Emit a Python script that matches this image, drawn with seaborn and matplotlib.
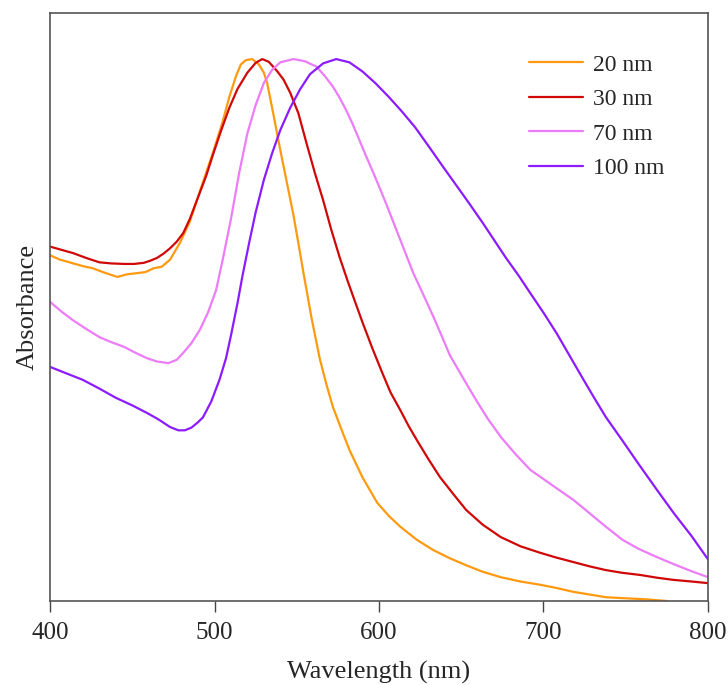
import pandas as pd
import matplotlib
matplotlib.use("Agg")
import matplotlib.pyplot as plt
import seaborn as sns

# values (absorbance, arbitrary units, peak = 1)
wl_20 = [400, 406, 413, 420, 426, 433, 441, 447, 453, 458, 463, 468, 473, 479, 485, 491, 499,
         505, 509, 513, 516, 519, 523, 527, 530, 532, 536, 540, 544, 548, 551, 554, 559, 564,
         568, 572, 577, 582, 590, 599, 606, 613, 623, 633, 643, 653, 663, 674, 686, 698, 708,
         718, 728, 738, 750, 763, 775]
abs_20 = [0.638, 0.630, 0.624, 0.618, 0.614, 0.606, 0.598, 0.603, 0.605, 0.607, 0.614, 0.617,
          0.630, 0.661, 0.700, 0.755, 0.827, 0.885, 0.930, 0.968, 0.990, 0.998, 1.000, 0.990,
          0.975, 0.956, 0.895, 0.832, 0.772, 0.712, 0.660, 0.607, 0.522, 0.447, 0.400, 0.358,
          0.318, 0.279, 0.228, 0.181, 0.157, 0.137, 0.113, 0.094, 0.079, 0.066, 0.054, 0.044,
          0.036, 0.030, 0.024, 0.017, 0.012, 0.007, 0.005, 0.003, 0.0]

wl_30 = [400, 407, 414, 422, 430, 437, 445, 451, 457, 461, 465, 469, 473, 477, 481, 485, 490,
         495, 499, 504, 509, 514, 520, 525, 529, 533, 538, 542, 546, 551, 556, 561, 566, 571,
         576, 581, 585, 590, 596, 602, 607, 613, 618, 623, 630, 637, 645, 653, 663, 674, 686,
         698, 708, 718, 728, 738, 748, 759, 769, 779, 790, 800]
abs_30 = [0.654, 0.648, 0.642, 0.633, 0.625, 0.623, 0.622, 0.622, 0.624, 0.628, 0.633, 0.641,
          0.651, 0.663, 0.679, 0.705, 0.745, 0.785, 0.823, 0.868, 0.910, 0.945, 0.975, 0.993,
          1.000, 0.995, 0.978, 0.962, 0.938, 0.900, 0.844, 0.790, 0.740, 0.685, 0.635, 0.590,
          0.556, 0.514, 0.466, 0.421, 0.385, 0.352, 0.323, 0.297, 0.262, 0.229, 0.198, 0.168,
          0.141, 0.118, 0.101, 0.089, 0.080, 0.072, 0.064, 0.057, 0.052, 0.048, 0.043, 0.039,
          0.036, 0.033]

wl_70 = [400, 407, 414, 422, 430, 437, 445, 452, 459, 465, 472, 477, 481, 486, 491, 496, 501,
         505, 510, 515, 520, 525, 530, 535, 540, 548, 555, 562, 567, 572, 576, 580, 584, 588,
         592, 597, 601, 605, 609, 613, 617, 621, 627, 633, 638, 643, 651, 659, 666, 674, 683,
         692, 700, 708, 718, 728, 738, 748, 758, 769, 780, 790, 800]
abs_70 = [0.552, 0.534, 0.518, 0.502, 0.487, 0.478, 0.469, 0.458, 0.448, 0.442, 0.439, 0.445,
          0.458, 0.476, 0.500, 0.532, 0.574, 0.630, 0.705, 0.790, 0.863, 0.915, 0.956, 0.980,
          0.994, 1.000, 0.996, 0.986, 0.969, 0.949, 0.929, 0.906, 0.880, 0.851, 0.822, 0.787,
          0.758, 0.728, 0.697, 0.666, 0.635, 0.604, 0.565, 0.525, 0.490, 0.454, 0.412, 0.371,
          0.337, 0.303, 0.271, 0.242, 0.225, 0.208, 0.187, 0.162, 0.137, 0.113, 0.096, 0.081,
          0.067, 0.055, 0.044]

wl_100 = [400, 410, 420, 430, 440, 450, 459, 466, 473, 478, 482, 486, 490, 493, 498, 503, 507,
          510, 514, 517, 521, 525, 530, 535, 540, 546, 552, 558, 566, 574, 582, 590, 598, 606,
          614, 622, 630, 639, 647, 655, 663, 670, 677, 685, 692, 700, 708, 716, 724, 731, 738,
          748, 758, 769, 779, 790, 800]
abs_100 = [0.432, 0.420, 0.408, 0.392, 0.375, 0.361, 0.347, 0.335, 0.321, 0.315, 0.315, 0.320,
           0.330, 0.339, 0.368, 0.408, 0.448, 0.490, 0.550, 0.600, 0.660, 0.717, 0.777, 0.826,
           0.869, 0.910, 0.944, 0.972, 0.992, 1.000, 0.994, 0.977, 0.955, 0.930, 0.903, 0.874,
           0.840, 0.801, 0.767, 0.733, 0.698, 0.666, 0.634, 0.600, 0.568, 0.532, 0.494, 0.452,
           0.410, 0.374, 0.339, 0.296, 0.252, 0.205, 0.163, 0.120, 0.077]

sizes = ["20 nm", "30 nm", "70 nm", "100 nm"]
colors = ["#FF9A10", "#D00808", "#EC7CF8", "#8C1CFF"]


def build_frame():
    parts = []
    for label, wl, ab in zip(sizes, [wl_20, wl_30, wl_70, wl_100],
                             [abs_20, abs_30, abs_70, abs_100]):
        parts.append(pd.DataFrame({"Wavelength": wl, "Absorbance": ab, "Size": label}))
    return pd.concat(parts, ignore_index=True)


def main():
    df = build_frame()

    sns.set_theme(style="white")
    plt.rcParams["font.family"] = ["Liberation Serif", "DejaVu Serif"]

    fig = plt.figure(figsize=(7.28, 6.85), dpi=100)
    ax = fig.add_axes([0.0687, 0.1226, 0.9038, 0.8584])

    sns.lineplot(data=df, x="Wavelength", y="Absorbance", hue="Size",
                 palette=dict(zip(sizes, colors)), estimator=None, sort=True,
                 linewidth=1.6, ax=ax)

    ax.set_xlim(400, 800)
    ax.set_ylim(0, 1.085)
    ax.set_xticks([400, 500, 600, 700, 800])
    ax.set_yticks([])
    ax.tick_params(axis="x", direction="out", length=8, width=1, color="#444444",
                   labelsize=18, pad=7, bottom=True)
    ax.set_xlabel("Wavelength (nm)", fontsize=19, labelpad=12)
    ax.set_ylabel("Absorbance", fontsize=19, labelpad=8)
    for side in ["left", "right", "top", "bottom"]:
        ax.spines[side].set_color("#555555")
        ax.spines[side].set_linewidth(1.2)

    ax.legend(loc="upper left", bbox_to_anchor=(0.728, 0.930), frameon=False,
              fontsize=17, handlelength=2.3, handletextpad=0.42, labelspacing=0.55,
              borderaxespad=0, borderpad=0)

    fig.savefig("out.png", dpi=100)


if __name__ == "__main__":
    main()
